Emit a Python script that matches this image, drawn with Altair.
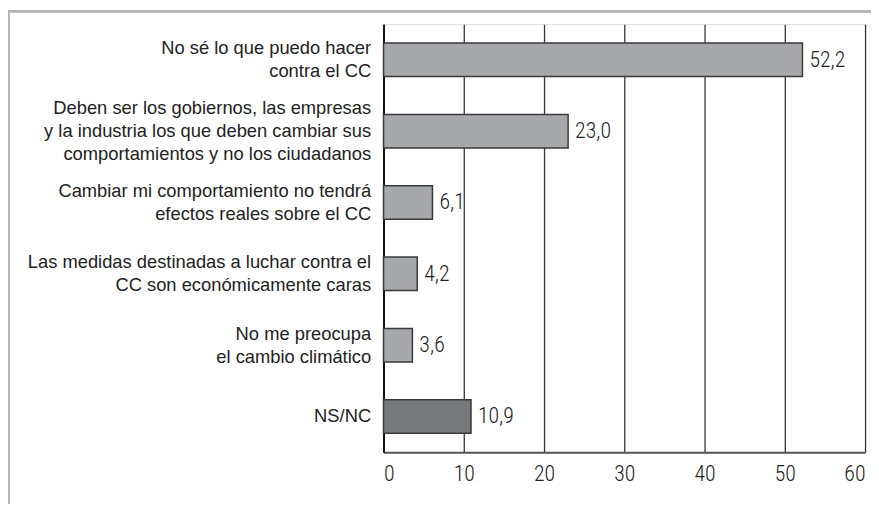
import altair as alt
import pandas as pd

categories = [
    "No sé lo que puedo hacer|contra el CC",
    "Deben ser los gobiernos, las empresas|y la industria los que deben cambiar sus|comportamientos y no los ciudadanos",
    "Cambiar mi comportamiento no tendrá|efectos reales sobre el CC",
    "Las medidas destinadas a luchar contra el|CC son económicamente caras",
    "No me preocupa|el cambio climático",
    "NS/NC",
]
values = [52.2, 23.0, 6.1, 4.2, 3.6, 10.9]
labels = ["52,2", "23,0", "6,1", "4,2", "3,6", "10,9"]
groups = ["razón", "razón", "razón", "razón", "razón", "nsnc"]
x_ticks = [0, 10, 20, 30, 40, 50, 60]

df = pd.DataFrame({"cat": categories, "val": values, "lab": labels, "grp": groups})

NUM_FONT = "Roboto Condensed, DejaVu Sans Condensed, Liberation Sans, sans-serif"
TXT_FONT = "Liberation Sans, Arial, sans-serif"
LH = 23.4

nl = "length(split(datum.value, '|'))"
y = alt.Y(
    "cat:N",
    sort=categories,
    title=None,
    scale=alt.Scale(paddingInner=0.53, paddingOuter=0.265),
    axis=alt.Axis(
        labelExpr="split(datum.label, '|')",
        labelFont=TXT_FONT,
        labelFontSize=18.5,
        labelColor="#222222",
        labelLineHeight=LH,
        labelPadding=13,
        labelLimit=400,
        labelOffset={
            "condition": [
                {"test": f"{nl} == 3", "value": -LH},
                {"test": f"{nl} == 2", "value": -LH / 2},
            ],
            "value": 0,
        },
        ticks=False,
        domainColor="#111111",
        domainWidth=2,
        grid=False,
    ),
)

x = alt.X(
    "val:Q",
    title=None,
    scale=alt.Scale(domain=[0, 60], nice=False),
    axis=alt.Axis(
        values=x_ticks,
        labelFont=NUM_FONT,
        labelFontSize=22,
        labelFontWeight=300,
        labelColor="#222222",
        labelPadding=12,
        labelFlush=True,
        ticks=False,
        domainColor="#555555",
        domainWidth=2,
        grid=True,
        gridColor="#333333",
        gridWidth=1.3,
    ),
)

bars = alt.Chart(df).mark_bar(stroke="#3a3a3a", strokeWidth=1.5).encode(
    x=x,
    y=y,
    color=alt.Color(
        "grp:N",
        scale=alt.Scale(domain=["razón", "nsnc"], range=["#a7a8ab", "#77787b"]),
        legend=None,
    ),
)

text = alt.Chart(df).mark_text(
    align="left",
    baseline="middle",
    dx=7,
    font=NUM_FONT,
    fontSize=22,
    fontWeight=300,
    color="#222222",
).encode(x="val:Q", y=alt.Y("cat:N", sort=categories), text="lab:N")

frame_top = alt.Chart(df).mark_rule(color="#b5b5b5", strokeWidth=2).encode(
    x=alt.value(-379), x2=alt.value(500), y=alt.value(-13)
)
frame_left = alt.Chart(df).mark_rule(color="#b5b5b5", strokeWidth=2).encode(
    x=alt.value(-378), y=alt.value(-14), y2=alt.value(490)
)

chart = (
    alt.layer(frame_top, frame_left, bars, text)
    .properties(
        width=486,
        height=432,
        autosize=alt.AutoSizeParams(type="none"),
        padding={"left": 379, "top": 14, "right": 6, "bottom": 50},
    )
    .configure_view(stroke="#111111", strokeWidth=1.5)
    .configure(background="white")
)

chart.save("out.html", embed_options={"renderer": "svg", "actions": False})
